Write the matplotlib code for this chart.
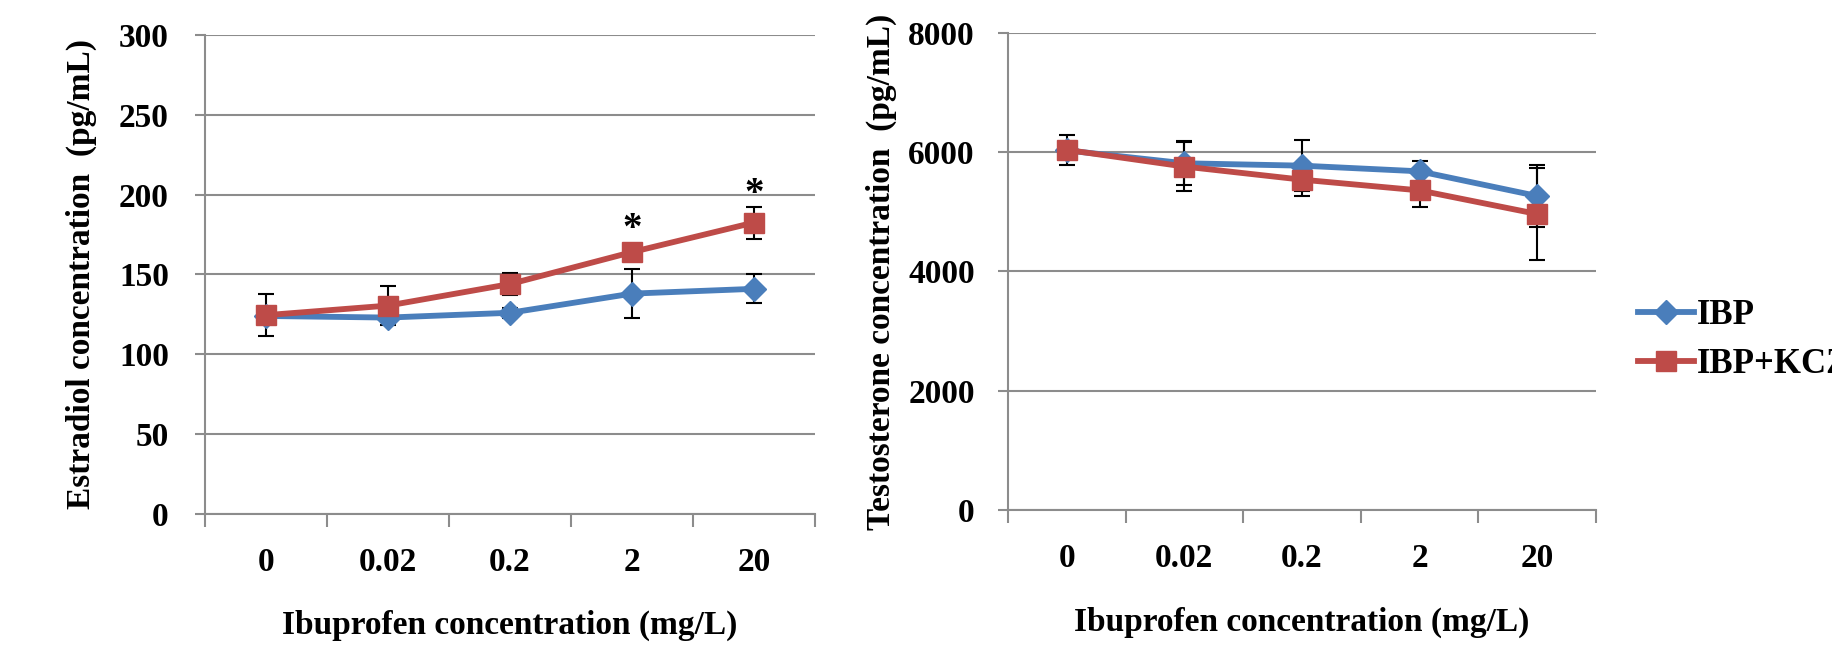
import matplotlib
matplotlib.use('Agg')
import matplotlib.pyplot as plt
import numpy as np

plt.rcParams['font.family'] = ['Liberation Serif', 'DejaVu Serif']
plt.rcParams['font.weight'] = 'bold'

categories = ['0', '0.02', '0.2', '2', '20']
series_names = ['IBP', 'IBP+KCZ']

# estradiol (pg/mL)
e2_ibp = [124, 123, 126, 138, 141]
e2_ibp_err = [3, 3, 3, 15.5, 9]
e2_kcz = [124.5, 130.5, 144, 164, 182.5]
e2_kcz_err = [13, 12, 7, 5, 10]
e2_star_idx = [3, 4]
e2_star_y = [178, 200]

# testosterone (pg/mL)
t_ibp = [6030, 5815, 5775, 5680, 5266]
t_ibp_err = [150, 370, 430, 180, 520]
t_kcz = [6040, 5760, 5540, 5360, 4964]
t_kcz_err = [250, 410, 270, 275, 770]

BLUE = '#4a7ebb'
RED = '#be4b48'
GRID = '#8c8c8c'
FS = 24


def draw_panel(ax, ibp, ibp_err, kcz, kcz_err, ymax, ystep, ylabel,
               ypad, ylabelpad):
    x = np.arange(len(categories))
    for y, err in [(ibp, ibp_err), (kcz, kcz_err)]:
        ax.errorbar(x, y, yerr=err, fmt='none', ecolor='black', elinewidth=1.5,
                    capsize=6, capthick=1.5, zorder=3)
    l1, = ax.plot(x, ibp, color=BLUE, lw=4.2, marker='D', ms=12,
                  mec=BLUE, mfc=BLUE, zorder=4)
    l2, = ax.plot(x, kcz, color=RED, lw=4.2, marker='s', ms=15,
                  mec=RED, mfc=RED, zorder=5)

    ax.set_xlim(-0.5, len(categories) - 0.5)
    ax.set_ylim(0, ymax)
    ax.set_yticks(np.arange(0, ymax + 1, ystep))
    ax.set_xticks(x)
    ax.set_xticklabels(categories)
    ax.set_xticks(np.arange(-0.5, len(categories)), minor=True)
    ax.tick_params(axis='x', which='major', length=0, pad=24, labelsize=FS)
    ax.tick_params(axis='x', which='minor', length=9, width=1.5, color=GRID)
    ax.tick_params(axis='y', length=7, width=1.5, color=GRID, pad=ypad,
                   labelsize=FS)
    for lab in ax.get_xticklabels() + ax.get_yticklabels():
        lab.set_fontweight('bold')

    ax.grid(axis='y', color=GRID, lw=1.5)
    ax.set_axisbelow(True)
    for s in ['top', 'right']:
        ax.spines[s].set_visible(False)
    for s in ['left', 'bottom']:
        ax.spines[s].set_color(GRID)
        ax.spines[s].set_linewidth(1.5)

    ax.set_xlabel('Ibuprofen concentration (mg/L)', fontsize=FS,
                  fontweight='bold', labelpad=23)
    ax.set_ylabel(ylabel, fontsize=FS, fontweight='bold', labelpad=ylabelpad)
    return l1, l2


fig = plt.figure(figsize=(18.33, 6.52), dpi=100)
ax1 = fig.add_axes([0.1118, 0.2117, 0.3328, 0.7347])
ax2 = fig.add_axes([0.5499, 0.2178, 0.3208, 0.7316])

draw_panel(ax1, e2_ibp, e2_ibp_err, e2_kcz, e2_kcz_err, 300, 50,
           'Estradiol concentration  (pg/mL)', 19, 16)
for i, yy in zip(e2_star_idx, e2_star_y):
    ax1.text(i, yy, '*', ha='center', va='center', fontsize=28,
             fontweight='bold')

h1, h2 = draw_panel(ax2, t_ibp, t_ibp_err, t_kcz, t_kcz_err, 8000, 2000,
                    'Testosterone concentration  (pg/mL)', 17, 8)

# legend sits at the right edge, the last label runs off the figure like the original
fig.legend([h1, h2], series_names, loc='upper left',
           bbox_to_anchor=(0.8936, 0.541), frameon=False,
           borderpad=0, borderaxespad=0,
           handlelength=1.6, handletextpad=0.1, labelspacing=0.45,
           prop={'weight': 'bold', 'size': 25})

fig.savefig('out.png', dpi=100)
